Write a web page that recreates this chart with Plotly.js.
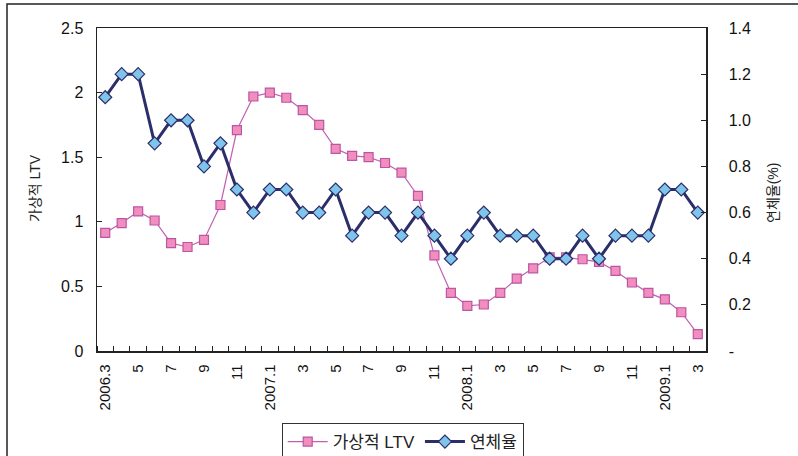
<!DOCTYPE html>
<html>
<head>
<meta charset="utf-8">
<script src="https://cdn.plot.ly/plotly-3.0.1.min.js"></script>
<style>html,body{margin:0;padding:0;background:#fff;}#chart{width:798px;height:456px;}</style>
</head>
<body>
<div id="chart"></div>
<script>
// Months 2006.3 .. 2009.3 (37 points)
const months = ["2006.3","2006.4","2006.5","2006.6","2006.7","2006.8","2006.9","2006.10","2006.11","2006.12",
  "2007.1","2007.2","2007.3","2007.4","2007.5","2007.6","2007.7","2007.8","2007.9","2007.10","2007.11","2007.12",
  "2008.1","2008.2","2008.3","2008.4","2008.5","2008.6","2008.7","2008.8","2008.9","2008.10","2008.11","2008.12",
  "2009.1","2009.2","2009.3"];
const tickLabels = ["2006.3","5","7","9","11","2007.1","3","5","7","9","11","2008.1","3","5","7","9","11","2009.1","3"];
const ltv = [0.915,0.99,1.08,1.01,0.835,0.805,0.86,1.13,1.71,1.97,
  2.0,1.96,1.865,1.75,1.565,1.51,1.50,1.455,1.38,1.20,0.74,0.45,
  0.35,0.36,0.45,0.56,0.64,0.725,0.725,0.71,0.69,0.62,0.53,0.45,
  0.40,0.30,0.13];
const delinquency = [1.1,1.2,1.2,0.9,1.0,1.0,0.8,0.9,0.7,0.6,
  0.7,0.7,0.6,0.6,0.7,0.5,0.6,0.6,0.5,0.6,0.5,0.4,
  0.5,0.6,0.5,0.5,0.5,0.4,0.4,0.5,0.4,0.5,0.5,0.5,
  0.7,0.7,0.6];
const leftTicks = [0,0.5,1,1.5,2,2.5];
const leftTickText = ["0","0.5","1","1.5","2","2.5"];
const rightTicks = [0,0.2,0.4,0.6,0.8,1.0,1.2,1.4];
const rightTickText = ["-","0.2","0.4","0.6","0.8","1.0","1.2","1.4"];

const idx = months.map((m,i)=>i);
const tickIdx = idx.filter(i=>i%2===0);

const FONT = "Liberation Sans, Arial, 'Noto Sans CJK KR', sans-serif";

const traces = [
  {x: idx, y: ltv, name: "가상적 LTV", type: "scatter", mode: "lines+markers",
   line: {color: "#C35FAE", width: 1.2},
   marker: {symbol: "square", size: 9, color: "#F28EBE", line: {color: "#BB55A4", width: 1.2}},
   yaxis: "y"},
  {x: idx, y: delinquency, name: "연체율", type: "scatter", mode: "lines+markers",
   line: {color: "#2B2E6A", width: 3},
   marker: {symbol: "diamond", size: 10, color: "#7FC4EA", line: {color: "#2B2E6A", width: 1.2}},
   yaxis: "y2"}
];

const layout = {
  width: 798, height: 456,
  margin: {l: 97, r: 92, t: 28, b: 105, autoexpand: false},
  paper_bgcolor: "#fff", plot_bgcolor: "#fff",
  font: {family: FONT, size: 14, color: "#111"},
  showlegend: true,
  legend: {orientation: "h", x: 0.502, xanchor: "center", y: (351-423)/323, yanchor: "top",
           bordercolor: "#333", borderwidth: 1, font: {size: 17, color: "#222"},
           itemwidth: 40, tracegroupgap: 0},
  xaxis: {type: "linear", range: [-0.5, 36.5], tickmode: "array", tickvals: tickIdx, ticktext: tickLabels,
          tickangle: -90, ticks: "", showgrid: false, zeroline: false,
          showline: true, mirror: true, linecolor: "#222", linewidth: 1.5,
          tickfont: {size: 15, color: "#111"}, ticklabelstandoff: 6,
          minor: {tickmode: "linear", tick0: 0.5, dtick: 1, ticks: "inside", ticklen: 5, tickcolor: "#222", showgrid: false}},
  yaxis: {range: [0, 2.5], tickmode: "array", tickvals: leftTicks, ticktext: leftTickText,
          ticks: "inside", ticklen: 5, tickcolor: "#222", showgrid: false, zeroline: false,
          showline: true, mirror: true, linecolor: "#222", linewidth: 1.5,
          tickfont: {size: 16, color: "#111"}, ticklabelstandoff: 9},
  yaxis2: {range: [0, 1.4], overlaying: "y", side: "right", tickmode: "array", tickvals: rightTicks, ticktext: rightTickText,
          ticks: "inside", ticklen: 5, tickcolor: "#222", showgrid: false, zeroline: false,
          showline: true, linecolor: "#222", linewidth: 1.5,
          tickfont: {size: 16, color: "#111"}, ticklabelstandoff: 18},
  annotations: [
    {text: "가상적 LTV", xref: "paper", yref: "paper", x: (35-97)/609, y: (351-188)/323, xanchor: "center", yanchor: "middle",
     textangle: -90, showarrow: false, font: {size: 14, color: "#222"}},
    {text: "연체율(%)", xref: "paper", yref: "paper", x: (773-97)/609, y: (351-193)/323, xanchor: "center", yanchor: "middle",
     textangle: -90, showarrow: false, font: {size: 14, color: "#222"}}
  ],
  shapes: [
    {type: "rect", xref: "paper", yref: "paper", x0: (7-97)/609, x1: (805-97)/609, y0: (351-465)/323, y1: (351-4)/323,
     line: {color: "#222", width: 1.5}, fillcolor: "rgba(0,0,0,0)", layer: "below"}
  ]
};

Plotly.newPlot("chart", traces, layout, {displayModeBar: false, staticPlot: true});
</script>
</body>
</html>
